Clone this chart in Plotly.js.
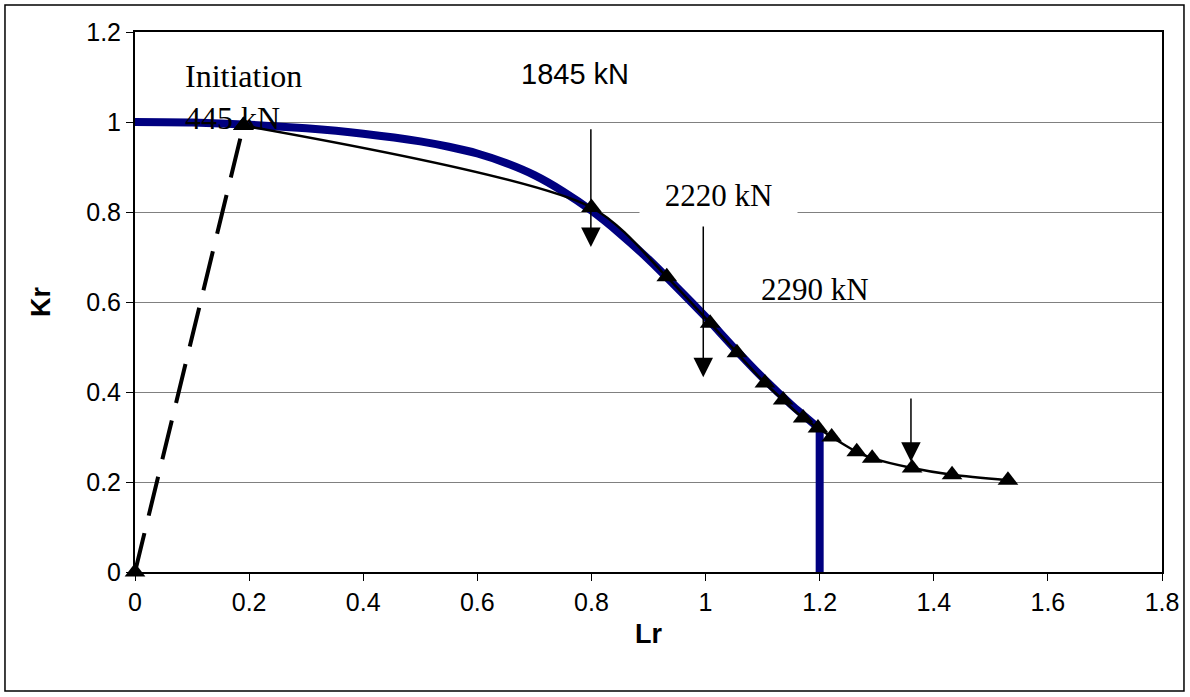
<!DOCTYPE html>
<html>
<head>
<meta charset="utf-8">
<script src="https://cdn.plot.ly/plotly-3.0.1.min.js"></script>
<style>html,body{margin:0;padding:0;background:#fff;}#chart{width:1190px;height:697px;}</style>
</head>
<body>
<div id="chart"></div>
<script>
// Failure assessment curve (blue)
const fadLr = [0, 0.1, 0.2, 0.3, 0.4, 0.5, 0.55, 0.6, 0.65, 0.7, 0.75, 0.8, 0.85, 0.9, 0.95, 1.0, 1.05, 1.1, 1.15, 1.2];
const fadKr = [1.0, 0.999, 0.994, 0.986, 0.974, 0.957, 0.945, 0.930, 0.909, 0.882, 0.846, 0.803, 0.752, 0.695, 0.632, 0.567, 0.498, 0.432, 0.372, 0.318];
// Cut-off at Lr max
const cutLr = [1.2, 1.2];
const cutKr = [0.318, 0];

// Initiation dashed segment
const initLr = [0, 0.19];
const initKr = [0, 0.992];

// Assessment path (black with triangles)
const pathLr = [0.19, 0.8, 0.932, 1.008, 1.055, 1.104, 1.136, 1.171, 1.197, 1.221, 1.265, 1.292, 1.362, 1.432, 1.53];
const pathKr = [0.992, 0.81, 0.656, 0.553, 0.487, 0.42, 0.382, 0.342, 0.32, 0.30, 0.267, 0.253, 0.231, 0.216, 0.204];

// Load arrows (vertical, pointing down)
const arrowLr = [0.799, 0.996, 1.36];
const arrowTop = [0.987, 0.771, 0.389];
const arrowTip = [0.722, 0.433, 0.245];

// Labels
const labelText = ['Initiation<br>445 kN', '1845 kN', '2220 kN', '2290 kN'];
const labelLr = [0.084, 0.771, 1.023, 1.192];
const labelKr = [1.055, 1.107, 0.838, 0.627];

const serif = "'Liberation Serif', 'Times New Roman', serif";
const sans = "'Liberation Sans', Arial, sans-serif";

const traces = [
  {x: fadLr, y: fadKr, type: 'scatter', mode: 'lines',
   line: {color: '#000080', width: 8, shape: 'spline', smoothing: 0.6}, cliponaxis: false, hoverinfo: 'x+y'},
  {x: cutLr, y: cutKr, type: 'scatter', mode: 'lines',
   line: {color: '#000080', width: 8}, cliponaxis: false, hoverinfo: 'x+y'},
  {x: initLr, y: initKr, type: 'scatter', mode: 'lines+markers',
   line: {color: '#000000', width: 4, dash: '40px,18px'},
   marker: {symbol: 'triangle-up', size: 18, color: '#000000'}, cliponaxis: false},
  {x: pathLr, y: pathKr, type: 'scatter', mode: 'lines+markers',
   line: {color: '#000000', width: 2.5, shape: 'spline', smoothing: 0.8},
   marker: {symbol: 'triangle-up', size: 18, color: '#000000'}, cliponaxis: false}
];

const annotations = [];
for (let i = 0; i < arrowLr.length; i++) {
  annotations.push({
    x: arrowLr[i], y: arrowTip[i], xref: 'x', yref: 'y',
    ax: arrowLr[i], ay: arrowTop[i], axref: 'x', ayref: 'y',
    text: '', showarrow: true, arrowhead: 2, arrowsize: 2.6, arrowwidth: 1.5,
    arrowcolor: '#000000', standoff: 0, startstandoff: 0
  });
}
annotations.push({x: labelLr[0], y: labelKr[0], xref: 'x', yref: 'y', text: labelText[0],
  showarrow: false, xanchor: 'left', align: 'left', font: {family: serif, size: 32, color: '#000'}});
annotations.push({x: labelLr[1], y: labelKr[1], xref: 'x', yref: 'y', text: labelText[1],
  showarrow: false, font: {family: sans, size: 29, color: '#000'}});
annotations.push({x: labelLr[2], y: labelKr[2], xref: 'x', yref: 'y', text: labelText[2],
  showarrow: false, bgcolor: '#ffffff', width: 155, height: 34,
  font: {family: serif, size: 31, color: '#000'}});
annotations.push({x: labelLr[3], y: labelKr[3], xref: 'x', yref: 'y', text: labelText[3],
  showarrow: false, font: {family: serif, size: 31, color: '#000'}});

const layout = {
  width: 1190, height: 697,
  margin: {l: 135, r: 28, t: 32, b: 125, pad: 0},
  paper_bgcolor: '#ffffff', plot_bgcolor: '#ffffff',
  showlegend: false,
  font: {family: sans, color: '#000'},
  xaxis: {
    range: [0, 1.8], dtick: 0.2, tick0: 0, showgrid: false, zeroline: false,
    showline: true, linecolor: '#000', linewidth: 2, mirror: true,
    ticks: 'outside', ticklen: 7, tickwidth: 1, tickcolor: '#000',
    tickfont: {family: sans, size: 25, color: '#000'},
    title: {text: '<b>Lr</b>', font: {family: sans, size: 27, color: '#000'}, standoff: 9},
    automargin: false, fixedrange: true
  },
  yaxis: {
    range: [0, 1.2], dtick: 0.2, tick0: 0, showgrid: true, gridcolor: '#808080', gridwidth: 1,
    zeroline: false, showline: true, linecolor: '#000', linewidth: 2, mirror: true,
    ticks: 'outside', ticklen: 7, tickwidth: 1, tickcolor: '#000',
    tickfont: {family: sans, size: 25, color: '#000'},
    title: {text: '<b>Kr</b>', font: {family: sans, size: 27, color: '#000'}, standoff: 28},
    automargin: false, fixedrange: true
  },
  shapes: [{type: 'rect', xref: 'paper', yref: 'paper', layer: 'below',
    x0: -0.1266, x1: 1.0214, y0: -0.2204, y1: 1.05,
    line: {color: '#000', width: 1.5}, fillcolor: 'rgba(0,0,0,0)'}],
  annotations: annotations
};

Plotly.newPlot('chart', traces, layout, {displayModeBar: false});
</script>
</body>
</html>
